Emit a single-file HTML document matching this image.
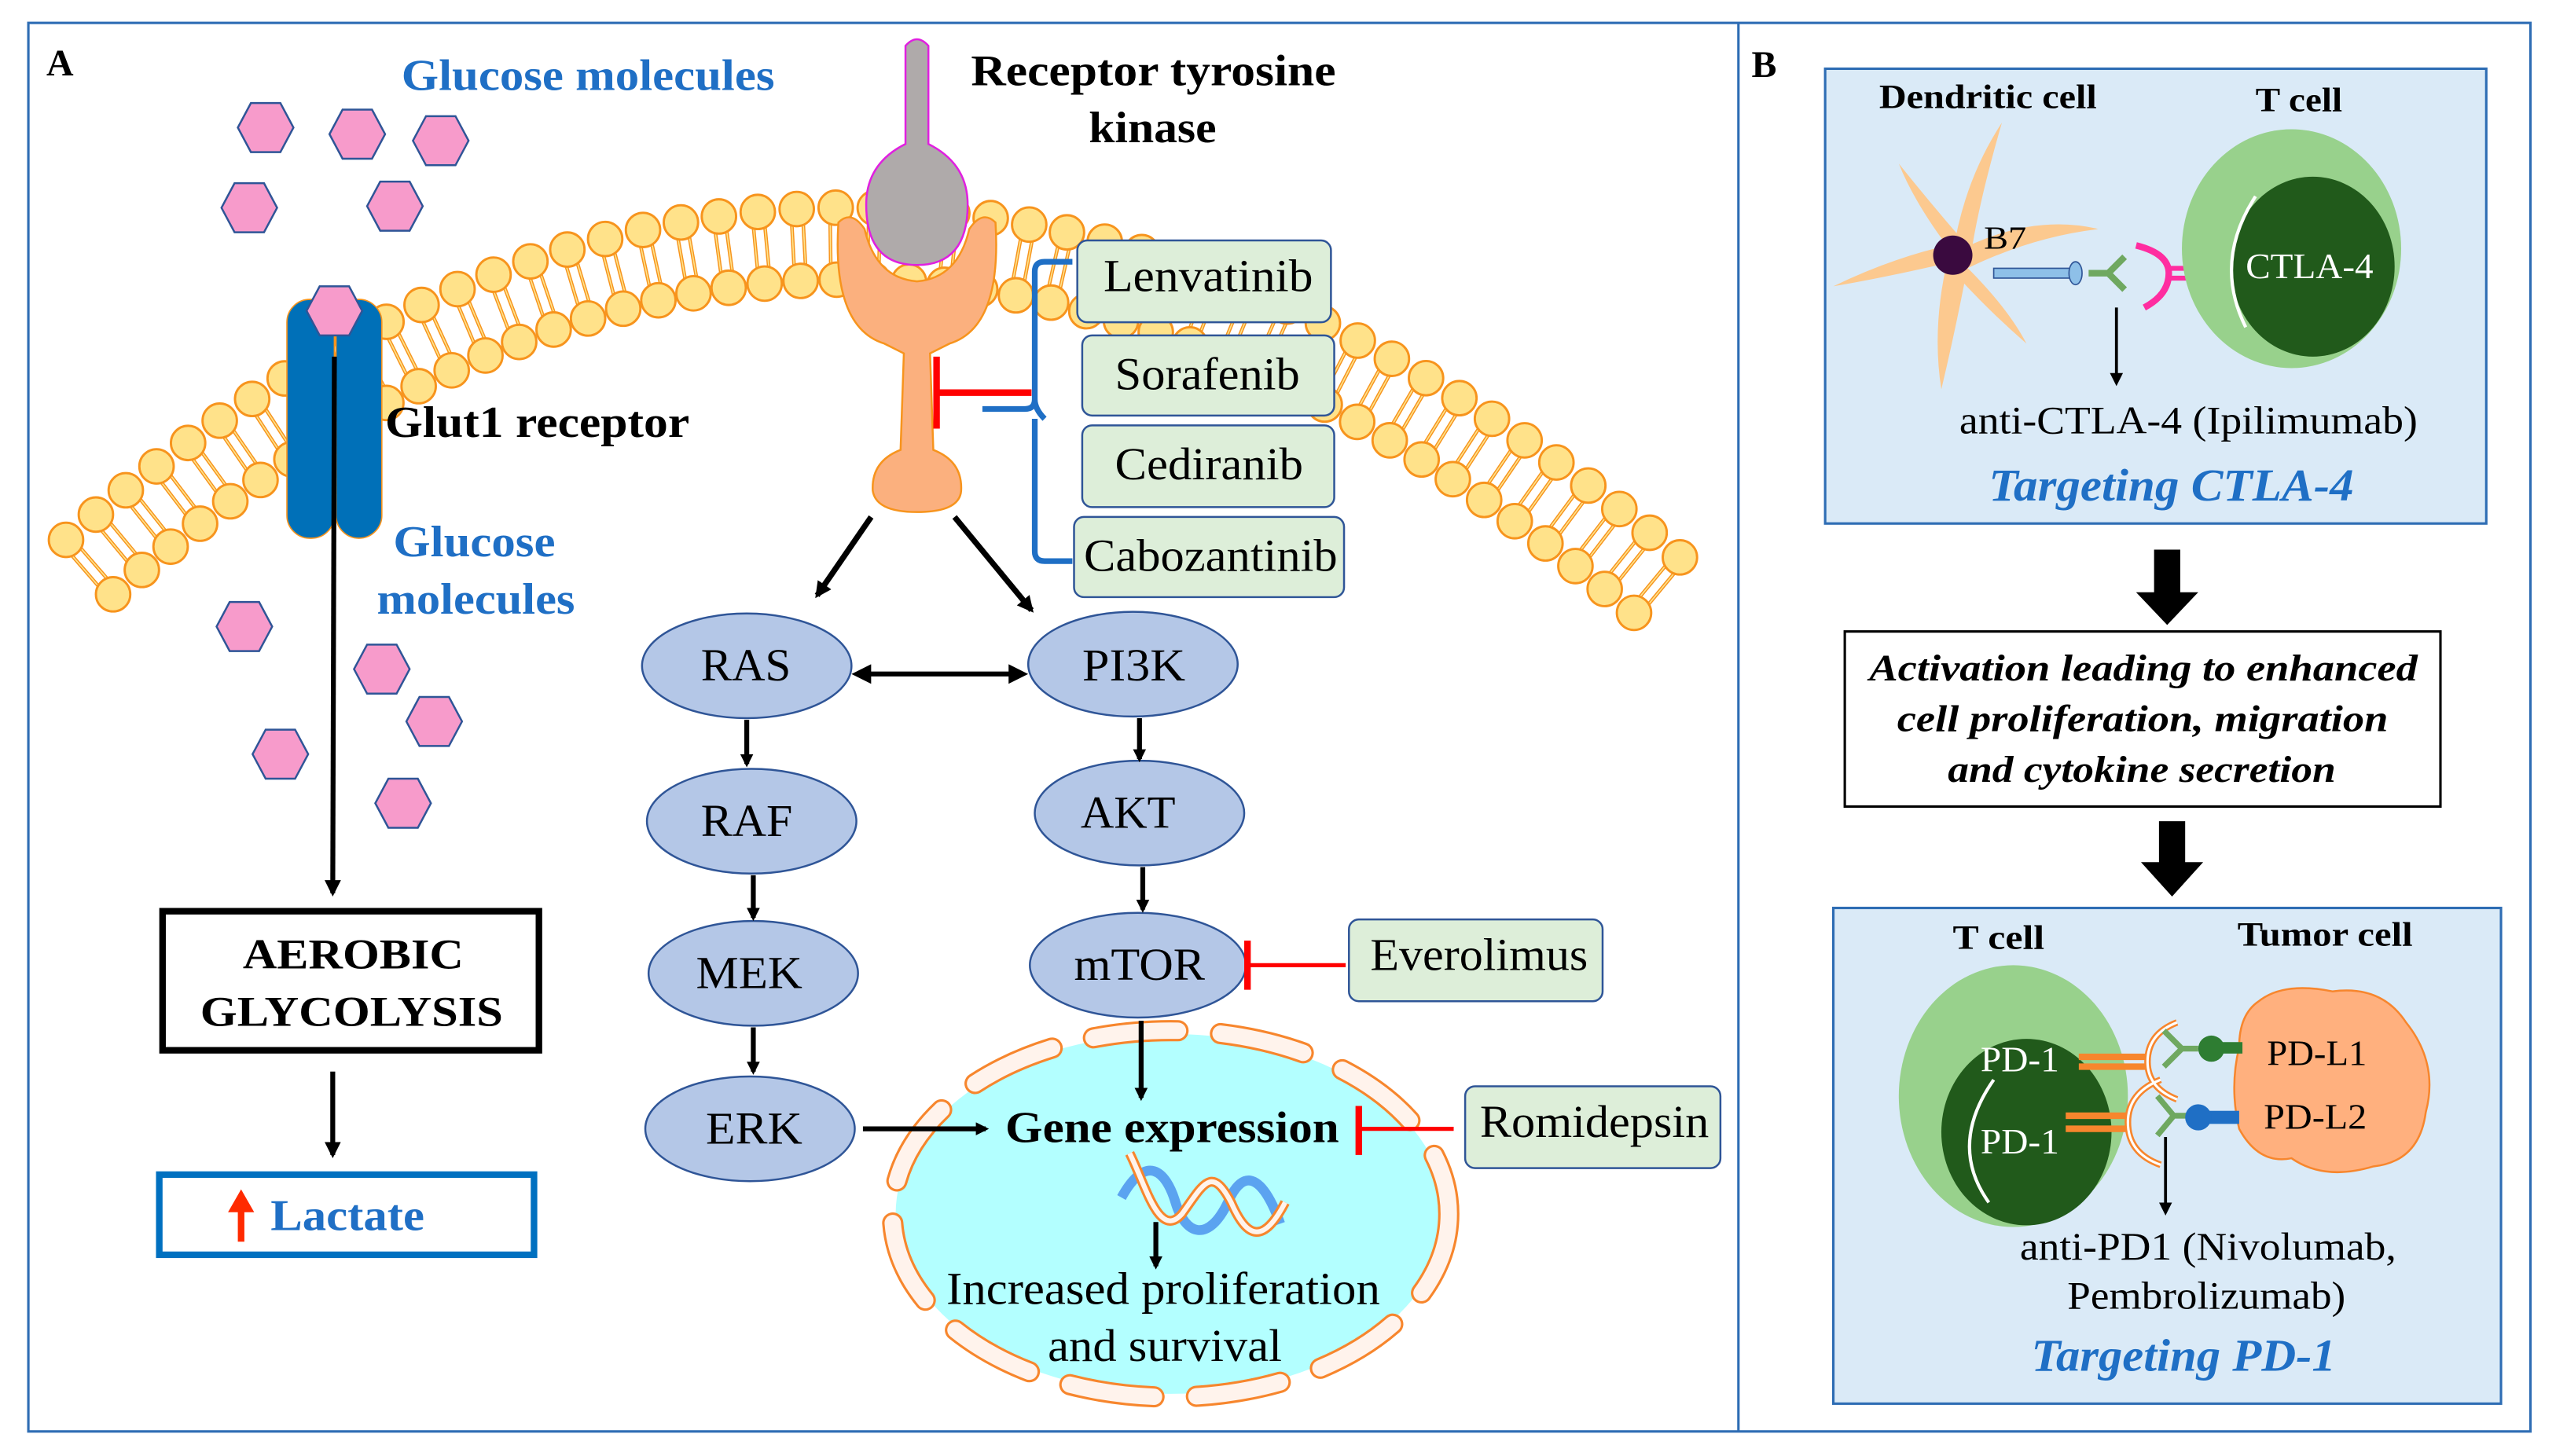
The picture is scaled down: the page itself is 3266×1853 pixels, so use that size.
<!DOCTYPE html>
<html><head><meta charset="utf-8">
<style>
html,body{margin:0;padding:0;background:#fff;}
svg{display:block;}
</style></head>
<body>
<svg id="s" width="3266" height="1853" viewBox="0 0 1568 890" xmlns="http://www.w3.org/2000/svg" font-family="'Liberation Serif', serif">
<defs>
<marker id="ah" markerWidth="8" markerHeight="8" refX="6" refY="4" orient="auto" markerUnits="userSpaceOnUse"><path d="M0,0 L8,4 L0,8 Z" fill="#000"/></marker>
<marker id="ahs" markerWidth="10" markerHeight="10" refX="8" refY="5" orient="auto" markerUnits="userSpaceOnUse"><path d="M0,0 L10,5 L0,10 Z" fill="#000"/></marker>
<marker id="ahr" markerWidth="12" markerHeight="12" refX="2" refY="6" orient="auto-start-reverse" markerUnits="userSpaceOnUse"><path d="M0,0 L12,6 L0,12 Z" fill="#000"/></marker>
<polygon id="hex" points="-17,0 -9,-15 9,-15 17,0 9,15 -9,15" fill="#F79BCB" stroke="#2F5597" stroke-width="1.2"/>
</defs>
<rect x="0" y="0" width="1568" height="890" fill="#fff"/>
<rect x="17" y="14" width="1529" height="861" fill="none" stroke="#2E6DB4" stroke-width="1.5"/>
<line x1="1062" y1="14" x2="1062" y2="875" stroke="#2E6DB4" stroke-width="1.5"/>

<g id="lipids"></g>

<!-- Panel A -->
<text x="28" y="46" font-size="23" font-weight="bold">A</text>
<text x="245" y="55" font-size="27" font-weight="bold" fill="#1F6FC5" textLength="228" lengthAdjust="spacingAndGlyphs">Glucose molecules</text>
<use href="#hex" x="162" y="78"/><use href="#hex" x="218" y="82"/><use href="#hex" x="269" y="86"/>
<use href="#hex" x="152" y="127"/><use href="#hex" x="241" y="126"/>

<!-- Glut1 -->
<rect x="175" y="183" width="29" height="146" rx="14" fill="#0070B8" stroke="#F7941D" stroke-width="0.8"/>
<rect x="205" y="183" width="28" height="146" rx="14" fill="#0070B8" stroke="#F7941D" stroke-width="0.8"/>
<use href="#hex" x="204" y="190"/>
<line x1="204" y1="218" x2="203" y2="546" stroke="#000" stroke-width="3" marker-end="url(#ahs)"/>
<text x="235" y="267" font-size="27" font-weight="bold" textLength="186" lengthAdjust="spacingAndGlyphs">Glut1 receptor</text>
<text x="240" y="340" font-size="27" font-weight="bold" fill="#1F6FC5" textLength="99" lengthAdjust="spacingAndGlyphs">Glucose</text>
<text x="230" y="375" font-size="27" font-weight="bold" fill="#1F6FC5" textLength="121" lengthAdjust="spacingAndGlyphs">molecules</text>
<use href="#hex" x="149" y="383"/><use href="#hex" x="233" y="409"/><use href="#hex" x="265" y="441"/>
<use href="#hex" x="171" y="461"/><use href="#hex" x="246" y="491"/>

<rect x="99" y="557" width="230" height="85" fill="#fff" stroke="#000" stroke-width="4"/>
<text x="148" y="592" font-size="26" font-weight="bold" textLength="135" lengthAdjust="spacingAndGlyphs">AEROBIC</text>
<text x="122" y="627" font-size="26" font-weight="bold" textLength="185" lengthAdjust="spacingAndGlyphs">GLYCOLYSIS</text>
<line x1="203" y1="655" x2="203" y2="706" stroke="#000" stroke-width="3" marker-end="url(#ahs)"/>
<rect x="97" y="718" width="229" height="49" fill="#fff" stroke="#0070C0" stroke-width="4"/>
<path d="M145,759 L145,741 L139,741 L147,727 L155,741 L149,741 L149,759 Z" fill="#FF2A00"/>
<text x="165" y="752" font-size="27" font-weight="bold" fill="#1F6FC5" textLength="94" lengthAdjust="spacingAndGlyphs">Lactate</text>

<!-- RTK -->
<path d="M512,136 Q508,200 540,210 L552,216 L550,275 Q532,282 533,300 Q535,313 560,313 Q586,313 587,300 Q588,282 570,275 L568,216 L580,210 Q612,200 608,136 Q600,128 592,140 Q585,170 560,172 Q535,170 528,140 Q520,128 512,136 Z" fill="#FBB07E" stroke="#F7941D" stroke-width="1.2"/>
<path d="M553,28 Q560,20 567,28 L567,88 Q591,100 591,125 Q591,162 560,162 Q529,162 529,125 Q529,100 553,88 Z" fill="#AFAAAA" stroke="#E020E0" stroke-width="1.2"/>
<text x="593" y="52" font-size="27" font-weight="bold" textLength="223" lengthAdjust="spacingAndGlyphs">Receptor tyrosine</text>
<text x="665" y="87" font-size="27" font-weight="bold" textLength="78" lengthAdjust="spacingAndGlyphs">kinase</text>
<line x1="572" y1="218" x2="572" y2="262" stroke="#FF0000" stroke-width="4"/>
<line x1="572" y1="240" x2="630" y2="240" stroke="#FF0000" stroke-width="4"/>
<path d="M655,160 L638,160 Q632,160 632,166 L632,244 Q632,250 626,250 L600,250 M632,244 Q632,250 638,256 M632,256 L632,337 Q632,343 638,343 L655,343" fill="none" stroke="#1F6FC5" stroke-width="3.5"/>

<g font-size="28" lengthAdjust="spacingAndGlyphs">
<rect x="658" y="147" width="155" height="50" rx="6" fill="#DDEED9" stroke="#2F5597" stroke-width="1.2"/>
<text x="674" y="178" textLength="128" lengthAdjust="spacingAndGlyphs">Lenvatinib</text>
<rect x="661" y="205" width="154" height="49" rx="6" fill="#DDEED9" stroke="#2F5597" stroke-width="1.2"/>
<text x="681" y="238" textLength="113" lengthAdjust="spacingAndGlyphs">Sorafenib</text>
<rect x="661" y="260" width="154" height="50" rx="6" fill="#DDEED9" stroke="#2F5597" stroke-width="1.2"/>
<text x="681" y="293" textLength="115" lengthAdjust="spacingAndGlyphs">Cediranib</text>
<rect x="656" y="316" width="165" height="49" rx="6" fill="#DDEED9" stroke="#2F5597" stroke-width="1.2"/>
<text x="662" y="349" textLength="155" lengthAdjust="spacingAndGlyphs">Cabozantinib</text>
<rect x="824" y="562" width="155" height="50" rx="6" fill="#DDEED9" stroke="#2F5597" stroke-width="1.2"/>
<text x="837" y="593" textLength="133" lengthAdjust="spacingAndGlyphs">Everolimus</text>
<rect x="895" y="664" width="156" height="50" rx="6" fill="#DDEED9" stroke="#2F5597" stroke-width="1.2"/>
<text x="904" y="695" textLength="140" lengthAdjust="spacingAndGlyphs">Romidepsin</text>
</g>

<line x1="532" y1="316" x2="499" y2="364" stroke="#000" stroke-width="3.5" marker-end="url(#ahs)"/>
<line x1="583" y1="316" x2="630" y2="373" stroke="#000" stroke-width="3.5" marker-end="url(#ahs)"/>

<!-- Nucleus -->
<ellipse cx="715" cy="742" rx="168" ry="110" fill="#B3FFFF"/>
<ellipse cx="715" cy="742" rx="170" ry="112" fill="none" stroke="#F7862D" stroke-width="13" stroke-dasharray="52 26" stroke-linecap="round"/>
<ellipse cx="715" cy="742" rx="170" ry="112" fill="none" stroke="#FFF3EC" stroke-width="10" stroke-dasharray="52 26" stroke-linecap="round"/>

<g fill="#B4C7E7" stroke="#2F5597" stroke-width="1.2">
<ellipse cx="456" cy="407" rx="64" ry="32"/>
<ellipse cx="692" cy="406" rx="64" ry="32"/>
<ellipse cx="459" cy="502" rx="64" ry="32"/>
<ellipse cx="696" cy="497" rx="64" ry="32"/>
<ellipse cx="460" cy="595" rx="64" ry="32"/>
<ellipse cx="695" cy="590" rx="66" ry="32"/>
<ellipse cx="458" cy="690" rx="64" ry="32"/>
</g>
<g font-size="28">
<text x="428" y="416" textLength="55" lengthAdjust="spacingAndGlyphs">RAS</text>
<text x="661" y="416" textLength="63" lengthAdjust="spacingAndGlyphs">PI3K</text>
<text x="428" y="511" textLength="56" lengthAdjust="spacingAndGlyphs">RAF</text>
<text x="660" y="506" textLength="58" lengthAdjust="spacingAndGlyphs">AKT</text>
<text x="425" y="604" textLength="65" lengthAdjust="spacingAndGlyphs">MEK</text>
<text x="656" y="599" textLength="80" lengthAdjust="spacingAndGlyphs">mTOR</text>
<text x="431" y="699" textLength="59" lengthAdjust="spacingAndGlyphs">ERK</text>
</g>
<line x1="530" y1="412" x2="618" y2="412" stroke="#000" stroke-width="3" marker-start="url(#ahr)" marker-end="url(#ahr)"/>
<g stroke="#000" stroke-width="3" marker-end="url(#ah)">
<line x1="456" y1="440" x2="456" y2="467"/>
<line x1="460" y1="535" x2="460" y2="561"/>
<line x1="460" y1="628" x2="460" y2="655"/>
<line x1="696" y1="439" x2="696" y2="464"/>
<line x1="698" y1="530" x2="698" y2="556"/>
<line x1="697" y1="624" x2="697" y2="671"/>
<line x1="527" y1="690" x2="602" y2="690"/>
<line x1="706" y1="747" x2="706" y2="774"/>
</g>
<line x1="822" y1="590" x2="762" y2="590" stroke="#FF0000" stroke-width="2.5"/>
<line x1="762" y1="575" x2="762" y2="605" stroke="#FF0000" stroke-width="4"/>
<line x1="888" y1="690" x2="830" y2="690" stroke="#FF0000" stroke-width="2.5"/>
<line x1="830" y1="676" x2="830" y2="706" stroke="#FF0000" stroke-width="4"/>
<text x="614" y="698" font-size="27" font-weight="bold" textLength="204" lengthAdjust="spacingAndGlyphs">Gene expression</text>
<!-- DNA -->
<path d="M685,732 C700,705 712,715 718,735 C724,755 738,760 750,735 C760,712 772,720 782,748" fill="none" stroke="#5BA3F0" stroke-width="6"/>
<path d="M690,705 C700,725 708,758 722,742 C735,724 740,712 752,735 C762,758 772,760 785,735" fill="none" stroke="#F7862D" stroke-width="6"/>
<path d="M690,705 C700,725 708,758 722,742 C735,724 740,712 752,735 C762,758 772,760 785,735" fill="none" stroke="#FFF3EC" stroke-width="3"/>
<text x="578" y="797" font-size="28" textLength="265" lengthAdjust="spacingAndGlyphs">Increased proliferation</text>
<text x="640" y="832" font-size="28" textLength="143" lengthAdjust="spacingAndGlyphs">and survival</text>

<!-- Panel B -->
<text x="1070" y="47" font-size="23" font-weight="bold">B</text>
<rect x="1115" y="42" width="404" height="278" fill="#DAEAF7" stroke="#2E6DB4" stroke-width="1.5"/>
<text x="1148" y="66" font-size="21" font-weight="bold" textLength="133" lengthAdjust="spacingAndGlyphs">Dendritic cell</text>
<text x="1378" y="68" font-size="21" font-weight="bold" textLength="53" lengthAdjust="spacingAndGlyphs">T cell</text>
<g fill="#FCC98F">
<path d="M1193,155 Q1200,110 1223,75 Q1210,120 1205,150 Z"/>
<path d="M1193,155 Q1240,130 1282,140 Q1240,145 1200,165 Z"/>
<path d="M1193,155 Q1225,185 1238,210 Q1215,190 1195,168 Z"/>
<path d="M1190,158 Q1180,200 1186,238 Q1195,200 1202,163 Z"/>
<path d="M1193,160 Q1150,170 1120,175 Q1155,158 1190,150 Z"/>
<path d="M1193,155 Q1170,125 1160,100 Q1180,125 1200,148 Z"/>
</g>
<circle cx="1193" cy="156" r="12" fill="#3A0A3F"/>
<text x="1212" y="152" font-size="20" textLength="26" lengthAdjust="spacingAndGlyphs">B7</text>
<rect x="1218" y="164" width="48" height="6" fill="#8EC0E8" stroke="#2F5597" stroke-width="0.8"/>
<ellipse cx="1268" cy="167" rx="4" ry="7" fill="#8EC0E8" stroke="#2F5597" stroke-width="0.8"/>
<path d="M1276,167 L1288,167 L1298,157 M1288,167 L1298,177" fill="none" stroke="#6FA860" stroke-width="4"/>
<path d="M1305,150 Q1325,155 1325,167 Q1325,180 1310,188" fill="none" stroke="#FF2DA0" stroke-width="4"/>
<line x1="1325" y1="164" x2="1340" y2="164" stroke="#FF2DA0" stroke-width="3"/>
<line x1="1325" y1="170" x2="1340" y2="170" stroke="#FF2DA0" stroke-width="3"/>
<ellipse cx="1400" cy="152" rx="67" ry="73" fill="#98D18C"/>
<ellipse cx="1413" cy="163" rx="50" ry="55" fill="#215A1B"/>
<path d="M1378,120 Q1352,160 1372,200" fill="none" stroke="#fff" stroke-width="2"/>
<text x="1372" y="170" font-size="22" fill="#fff" textLength="78" lengthAdjust="spacingAndGlyphs">CTLA-4</text>
<line x1="1293" y1="188" x2="1293" y2="234" stroke="#000" stroke-width="1.8" marker-end="url(#ah)"/>
<text x="1197" y="265" font-size="24" textLength="280" lengthAdjust="spacingAndGlyphs">anti-CTLA-4  (Ipilimumab)</text>
<text x="1215" y="306" font-size="28" font-weight="bold" font-style="italic" fill="#1F6FC5" textLength="223" lengthAdjust="spacingAndGlyphs">Targeting CTLA-4</text>
<path d="M1316,336 L1332,336 L1332,362 L1343,362 L1324,382 L1305,362 L1316,362 Z" fill="#000"/>
<rect x="1127" y="386" width="364" height="107" fill="#fff" stroke="#000" stroke-width="1.5"/>
<g font-size="23" font-weight="bold" font-style="italic">
<text x="1142" y="416" textLength="335" lengthAdjust="spacingAndGlyphs">Activation  leading to enhanced</text>
<text x="1159" y="447" textLength="300" lengthAdjust="spacingAndGlyphs">cell proliferation,  migration</text>
<text x="1190" y="478" textLength="237" lengthAdjust="spacingAndGlyphs">and cytokine secretion</text>
</g>
<path d="M1319,502 L1335,502 L1335,527 L1346,527 L1327,548 L1308,527 L1319,527 Z" fill="#000"/>

<rect x="1120" y="555" width="408" height="303" fill="#DAEAF7" stroke="#2E6DB4" stroke-width="1.5"/>
<text x="1193" y="580" font-size="21" font-weight="bold" textLength="56" lengthAdjust="spacingAndGlyphs">T cell</text>
<text x="1367" y="578" font-size="21" font-weight="bold" textLength="107" lengthAdjust="spacingAndGlyphs">Tumor cell</text>
<ellipse cx="1230" cy="670" rx="70" ry="80" fill="#98D18C"/>
<ellipse cx="1238" cy="692" rx="52" ry="57" fill="#215A1B"/>
<path d="M1218,660 Q1190,700 1215,735" fill="none" stroke="#fff" stroke-width="2"/>
<text x="1210" y="655" font-size="22" fill="#fff" textLength="48" lengthAdjust="spacingAndGlyphs">PD-1</text>
<text x="1210" y="705" font-size="22" fill="#fff" textLength="48" lengthAdjust="spacingAndGlyphs">PD-1</text>
<path d="M1380,612 Q1395,600 1425,606 Q1455,602 1470,625 Q1490,650 1482,680 Q1478,710 1450,713 Q1420,722 1400,708 Q1380,712 1368,690 Q1362,665 1368,640 Q1368,620 1380,612 Z" fill="#FFB07E" stroke="#F7862D" stroke-width="1.2"/>
<g fill="none" stroke="#F7862D" stroke-width="4">
<path d="M1270,646 L1312,646 M1270,652 L1312,652 M1330,625 Q1312,632 1312,649 Q1312,665 1330,672"/>
<path d="M1262,682 L1300,682 M1262,690 L1300,690 M1320,660 Q1300,668 1300,686 Q1300,705 1320,712"/>
</g>
<g fill="none" stroke="#fff" stroke-width="1.5">
<path d="M1330,625 Q1312,632 1312,649 Q1312,665 1330,672"/>
<path d="M1320,660 Q1300,668 1300,686 Q1300,705 1320,712"/>
</g>
<g fill="none" stroke="#6FA860" stroke-width="3.5">
<path d="M1322,630 L1333,641 L1322,652 M1333,641 L1343,641"/>
<path d="M1318,670 L1328,682 L1318,694 M1328,682 L1336,682"/>
</g>
<rect x="1350" y="637" width="20" height="7" fill="#2E7D32"/>
<circle cx="1351" cy="641" r="8" fill="#2E7D32"/>
<rect x="1344" y="679" width="24" height="8" fill="#1F6FC5"/>
<circle cx="1343" cy="683" r="8" fill="#1F6FC5"/>
<text x="1385" y="651" font-size="22" textLength="61" lengthAdjust="spacingAndGlyphs">PD-L1</text>
<text x="1383" y="690" font-size="22" textLength="63" lengthAdjust="spacingAndGlyphs">PD-L2</text>
<line x1="1323" y1="695" x2="1323" y2="741" stroke="#000" stroke-width="1.8" marker-end="url(#ah)"/>
<text x="1234" y="770" font-size="24" textLength="230" lengthAdjust="spacingAndGlyphs">anti-PD1 (Nivolumab,</text>
<text x="1263" y="800" font-size="24" textLength="170" lengthAdjust="spacingAndGlyphs">Pembrolizumab)</text>
<text x="1241" y="838" font-size="28" font-weight="bold" font-style="italic" fill="#1F6FC5" textLength="186" lengthAdjust="spacingAndGlyphs">Targeting PD-1</text>
</svg>
<script>
(function(){
var g=document.getElementById('lipids');
var P0=[40,330],P1=[520,-85],P2=[1035,348];
function B(t){var a=(1-t)*(1-t),b=2*(1-t)*t,c=t*t;return [a*P0[0]+b*P1[0]+c*P2[0],a*P0[1]+b*P1[1]+c*P2[1]];}
function D(t){return [2*(1-t)*(P1[0]-P0[0])+2*t*(P2[0]-P1[0]),2*(1-t)*(P1[1]-P0[1])+2*t*(P2[1]-P1[1])];}
var pts=[0],prev=B(0),acc=0;
for(var t=0.0005;t<=1;t+=0.0005){var p=B(t);acc+=Math.hypot(p[0]-prev[0],p[1]-prev[1]);prev=p;if(acc>=23.5){pts.push(t);acc=0;}}
var tails='',heads='';
pts.forEach(function(t){var p=B(t),d=D(t),L=Math.hypot(d[0],d[1]);var tx=d[0]/L,ty=d[1]/L,nx=-ty,ny=tx;
var q=[p[0]+nx*44,p[1]+ny*44];
[-3.5,3.5].forEach(function(o){tails+='<line x1="'+(p[0]+tx*o)+'" y1="'+(p[1]+ty*o)+'" x2="'+(q[0]+tx*o)+'" y2="'+(q[1]+ty*o)+'" stroke="#F7941D" stroke-width="2.2"/>';
tails+='<line x1="'+(p[0]+tx*o)+'" y1="'+(p[1]+ty*o)+'" x2="'+(q[0]+tx*o)+'" y2="'+(q[1]+ty*o)+'" stroke="#FFE28A" stroke-width="0.8"/>';});
heads+='<circle cx="'+p[0]+'" cy="'+p[1]+'" r="10.5" fill="#FFE28A" stroke="#F7941D" stroke-width="1.4"/>';
heads+='<circle cx="'+q[0]+'" cy="'+q[1]+'" r="10.5" fill="#FFE28A" stroke="#F7941D" stroke-width="1.4"/>';});
g.innerHTML=tails+heads;
})();
</script>
</body></html>
